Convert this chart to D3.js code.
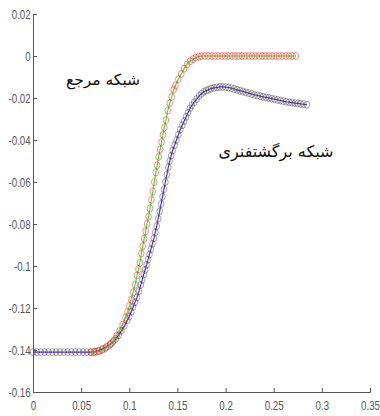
<!DOCTYPE html>
<html><head><meta charset="utf-8">
<script src="https://cdn.jsdelivr.net/npm/d3@7"></script>
<style>
body{margin:0;background:#fff;}
svg{display:block;}
.tick text{font-family:"Liberation Sans",Arial,sans-serif;font-size:12.5px;fill:#555;}
</style></head><body>
<svg id="c" width="380" height="416"></svg>
<script>
const xTicks=[0,0.05,0.1,0.15,0.2,0.25,0.3,0.35];
const yTicks=[0.02,0,-0.02,-0.04,-0.06,-0.08,-0.1,-0.12,-0.14,-0.16];
const refLabel="شبکه مرجع";
const springLabel="شبکه برگشتفنری";

const refX=[0.060,0.063,0.066,0.069,0.072,0.075,0.078,0.081,0.084,0.087,0.090,0.093,0.096,0.098,0.100,0.102,0.104,0.106,0.108,0.1095,0.111,0.1125,0.114,0.1155,0.117,0.1185,0.120,0.1215,0.123,0.1245,0.126,0.1275,0.129,0.1305,0.132,0.1335,0.135,0.1365,0.138,0.140,0.142,0.144,0.146,0.148,0.151,0.154,0.157,0.160,0.163,0.166,0.169,0.172,0.175,0.1785,0.182,0.1855,0.189,0.1925,0.196,0.1995,0.203,0.2065,0.210,0.2135,0.217,0.2205,0.224,0.2275,0.231,0.2345,0.238,0.2415,0.245,0.2485,0.252,0.2555,0.259,0.2625,0.266,0.2695,0.273];
const refY=[-0.141,-0.141,-0.1408,-0.1405,-0.1400,-0.1392,-0.1382,-0.1370,-0.1354,-0.1332,-0.1308,-0.128,-0.1245,-0.122,-0.119,-0.116,-0.1125,-0.109,-0.1045,-0.1015,-0.0985,-0.094,-0.0905,-0.087,-0.0835,-0.080,-0.0765,-0.0725,-0.0685,-0.0645,-0.060,-0.0555,-0.052,-0.048,-0.0445,-0.041,-0.0375,-0.034,-0.0305,-0.026,-0.0225,-0.0195,-0.016,-0.014,-0.011,-0.0085,-0.006,-0.004,-0.0025,-0.0015,-0.0008,-0.0003,0,0,0,0,0,0,0,0,0,0,0,0,0,0,0,0,0,0,0,0,0,0,0,0,0,0,0,0,0];

const sprX=[0,0.004,0.008,0.012,0.016,0.020,0.024,0.028,0.032,0.036,0.040,0.044,0.048,0.052,0.056,0.060,0.064,0.068,0.072,0.076,0.080,0.083,0.086,0.089,0.092,0.095,0.098,0.100,0.102,0.104,0.106,0.108,0.110,0.112,0.1135,0.115,0.1165,0.118,0.1195,0.121,0.1225,0.124,0.1255,0.127,0.1285,0.130,0.1315,0.133,0.1345,0.136,0.1375,0.139,0.1405,0.142,0.1435,0.145,0.147,0.149,0.151,0.153,0.155,0.157,0.159,0.161,0.163,0.165,0.1675,0.170,0.1725,0.175,0.1775,0.180,0.1825,0.185,0.188,0.191,0.194,0.197,0.200,0.203,0.206,0.209,0.212,0.215,0.218,0.221,0.224,0.227,0.230,0.233,0.236,0.239,0.242,0.245,0.248,0.251,0.254,0.257,0.260,0.263,0.266,0.269,0.272,0.275,0.278,0.281,0.2845];
const sprY=[-0.141,-0.141,-0.141,-0.141,-0.141,-0.141,-0.141,-0.141,-0.141,-0.141,-0.141,-0.141,-0.141,-0.141,-0.141,-0.141,-0.1409,-0.1404,-0.1396,-0.1386,-0.1374,-0.1362,-0.1346,-0.1330,-0.1308,-0.1285,-0.1258,-0.124,-0.1218,-0.1195,-0.1172,-0.115,-0.112,-0.109,-0.1065,-0.104,-0.1018,-0.0995,-0.097,-0.0945,-0.092,-0.0895,-0.0868,-0.084,-0.081,-0.0775,-0.074,-0.0705,-0.067,-0.0635,-0.060,-0.0565,-0.053,-0.050,-0.0475,-0.045,-0.0425,-0.040,-0.0375,-0.035,-0.033,-0.031,-0.029,-0.027,-0.025,-0.0235,-0.022,-0.0205,-0.019,-0.018,-0.017,-0.0165,-0.016,-0.0155,-0.0152,-0.0149,-0.0147,-0.0147,-0.0148,-0.015,-0.0153,-0.0157,-0.0161,-0.0165,-0.0169,-0.0173,-0.0177,-0.0181,-0.0185,-0.0188,-0.0191,-0.0194,-0.0197,-0.020,-0.0203,-0.0206,-0.0209,-0.0212,-0.0215,-0.0218,-0.022,-0.0222,-0.0224,-0.0226,-0.0228,-0.0229,-0.0232];

const svg=d3.select("#c");
const x=d3.scaleLinear().domain([0,0.35]).range([33,370]);
const y=d3.scaleLinear().domain([-0.16,0.02]).range([392,14]);

const fmt=d=>d===0?"0":String(d);
const xa=svg.append("g").attr("transform","translate(0,392)")
  .call(d3.axisBottom(x).tickValues(xTicks).tickSize(-4).tickPadding(9).tickFormat(fmt));
const ya=svg.append("g").attr("transform","translate(33,0)")
  .call(d3.axisLeft(y).tickValues(yTicks).tickSize(-4).tickPadding(3).tickFormat(fmt));
xa.selectAll(".tick text").attr("transform","scale(0.78,1)");
ya.selectAll(".tick text").attr("transform","scale(0.78,1)");
[xa,ya].forEach(a=>{a.select(".domain").attr("stroke","#555");a.selectAll(".tick line").attr("stroke","#555");});

const ref=refX.map((v,i)=>[v,refY[i]]);
const spr=sprX.map((v,i)=>[v,sprY[i]]);
const line=d3.line().x(d=>x(d[0])).y(d=>y(d[1]));

svg.append("path").attr("d",line(spr)).attr("fill","none").attr("stroke","#5a2fc8").attr("stroke-width",1.2);
svg.append("g").selectAll("ellipse").data(spr).join("ellipse")
  .attr("cx",d=>x(d[0])).attr("cy",d=>y(d[1])).attr("rx",2.8).attr("ry",3.5)
  .attr("fill","none").attr("stroke","#333").attr("stroke-width",0.6).attr("stroke-opacity",0.75);

svg.append("path").attr("d",line(ref)).attr("fill","none").attr("stroke","#22ee22").attr("stroke-width",1.1);
svg.append("g").selectAll("ellipse").data(ref).join("ellipse")
  .attr("cx",d=>x(d[0])).attr("cy",d=>y(d[1])).attr("rx",2.8).attr("ry",3.5)
  .attr("fill","none").attr("stroke","#ff1a1a").attr("stroke-width",0.6).attr("stroke-opacity",0.85);

svg.append("text").attr("x",103).attr("y",85).attr("text-anchor","middle")
  .attr("font-family","DejaVu Sans").attr("font-size",15.5).attr("fill","#111").attr("direction","rtl").text(refLabel);
svg.append("text").attr("x",276).attr("y",157).attr("text-anchor","middle")
  .attr("font-family","DejaVu Sans").attr("font-size",16).attr("fill","#111").attr("direction","rtl").text(springLabel);
</script></body></html>
